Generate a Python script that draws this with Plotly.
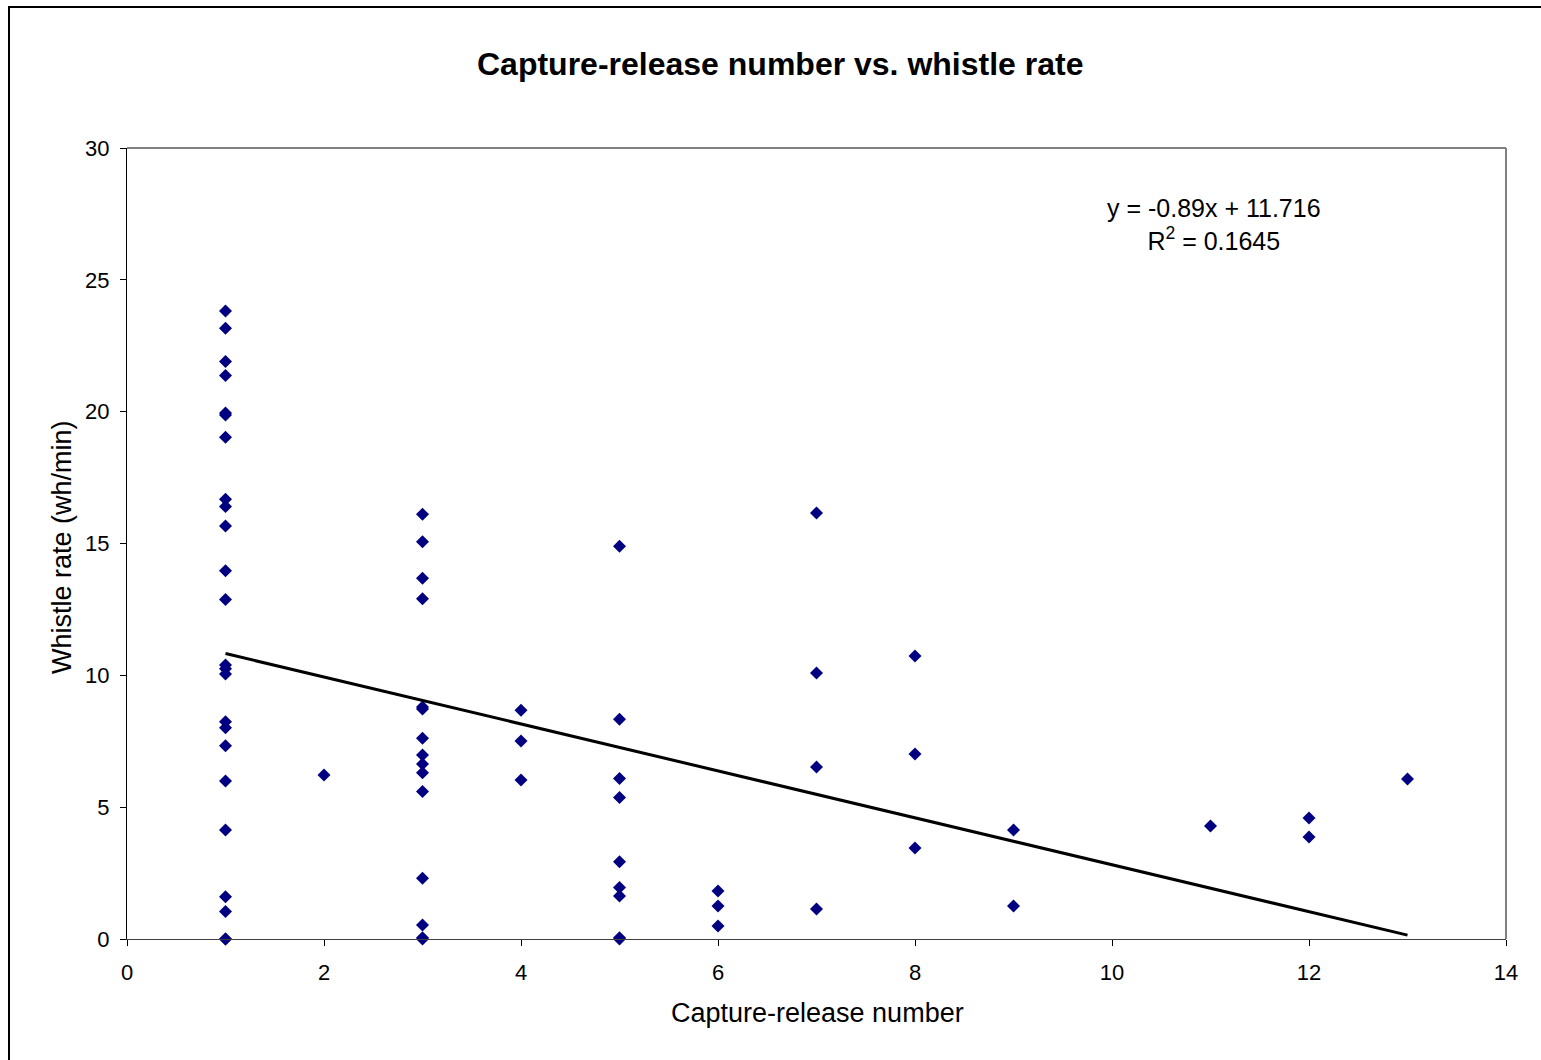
import plotly.graph_objects as go

capture_number = [1]*24 + [2] + [3]*15 + [4]*3 + [5]*9 + [6]*3 + [7]*4 + [8]*3 + [9]*2 + [11] + [12]*2 + [13]
whistle_rate = [
    # x = 1
    23.82, 23.16, 21.9, 21.37, 19.95, 19.87, 19.03, 16.68, 16.4, 15.66, 13.97, 12.88,
    10.39, 10.25, 10.05, 8.24, 8.01, 7.33, 5.99, 4.13, 1.6, 1.04, 0.0, 0.0,
    # x = 2
    6.22,
    # x = 3
    16.11, 15.07, 13.68, 12.9, 8.8, 8.72, 7.61, 6.98, 6.64, 6.31, 5.59, 2.3, 0.53, 0.05, 0.0,
    # x = 4
    8.68, 7.51, 6.03,
    # x = 5
    14.9, 8.33, 6.09, 5.37, 2.93, 1.95, 1.63, 0.05, 0.0,
    # x = 6
    1.82, 1.25, 0.49,
    # x = 7
    16.16, 10.09, 6.52, 1.14,
    # x = 8
    10.73, 7.02, 3.45,
    # x = 9
    4.13, 1.25,
    # x = 11
    4.29,
    # x = 12
    4.59, 3.87,
    # x = 13
    6.07,
]
slope = -0.89
intercept = 11.716
r_squared = 0.1645
trend_x = [1, 13]
trend_y = [slope * v + intercept for v in trend_x]

x_ticks = [0, 2, 4, 6, 8, 10, 12, 14]
y_ticks = [0, 5, 10, 15, 20, 25, 30]

W, H = 1541, 1060
L, R, T, B = 127, 1506, 148, 939
pw, ph = R - L, B - T

def px(x):
    return (x - L) / pw

def py(y):
    return (B - y) / ph

FONT = "Liberation Sans, Arial, sans-serif"

fig = go.Figure()
fig.add_trace(go.Scatter(
    x=capture_number, y=whistle_rate, mode="markers",
    marker=dict(symbol="diamond", size=10, color="#000080", line=dict(width=0)),
    showlegend=False, cliponaxis=False,
))
fig.add_trace(go.Scatter(
    x=trend_x, y=trend_y, mode="lines",
    line=dict(color="black", width=3), showlegend=False,
))

fig.update_layout(
    width=W, height=H,
    margin=dict(l=L, r=W - R, t=T, b=H - B),
    paper_bgcolor="white", plot_bgcolor="white",
    font=dict(family=FONT, color="black", size=22),
    xaxis=dict(range=[0, 14], tickvals=x_ticks, showgrid=False, zeroline=False,
               showline=True, linecolor="#404040", linewidth=1,
               ticks="outside", ticklen=6, tickcolor="black",
               ticklabelstandoff=8,
               tickfont=dict(size=22, family=FONT), fixedrange=True),
    yaxis=dict(range=[0, 30], tickvals=y_ticks, showgrid=False, zeroline=False,
               showline=True, linecolor="black", linewidth=1,
               ticks="outside", ticklen=6, tickcolor="black",
               ticklabelstandoff=6,
               tickfont=dict(size=22, family=FONT), fixedrange=True),
)

# plot-area top/right border (gray)
fig.add_shape(type="line", xref="paper", yref="paper", x0=0, y0=1, x1=1, y1=1,
              line=dict(color="#808080", width=2))
fig.add_shape(type="line", xref="paper", yref="paper", x0=1, y0=0, x1=1, y1=1,
              line=dict(color="#808080", width=2))
# outer chart border
fig.add_shape(type="rect", xref="paper", yref="paper",
              x0=px(9), y0=py(1200), x1=px(1700), y1=py(7),
              line=dict(color="black", width=2), fillcolor="rgba(0,0,0,0)")

fig.add_annotation(text="<b>Capture-release number vs. whistle rate</b>",
                   xref="paper", yref="paper", x=px(780), y=py(64),
                   showarrow=False, font=dict(size=32, family=FONT),
                   xanchor="center", yanchor="middle")
fig.add_annotation(text="Capture-release number", xref="paper", yref="paper",
                   x=px(817), y=py(1013), showarrow=False,
                   font=dict(size=27, family=FONT), xanchor="center", yanchor="middle")
fig.add_annotation(text="Whistle rate (wh/min)", xref="paper", yref="paper",
                   x=px(62), y=py(547), showarrow=False, textangle=-90,
                   font=dict(size=27, family=FONT), xanchor="center", yanchor="middle")
fig.add_annotation(text=f"y = {slope}x + {intercept}<br>R<sup>2</sup> = {r_squared}",
                   xref="paper", yref="paper", x=px(1214), y=py(224),
                   showarrow=False, font=dict(size=25, family=FONT),
                   xanchor="center", yanchor="middle", align="center")

fig.write_html("out.html")
